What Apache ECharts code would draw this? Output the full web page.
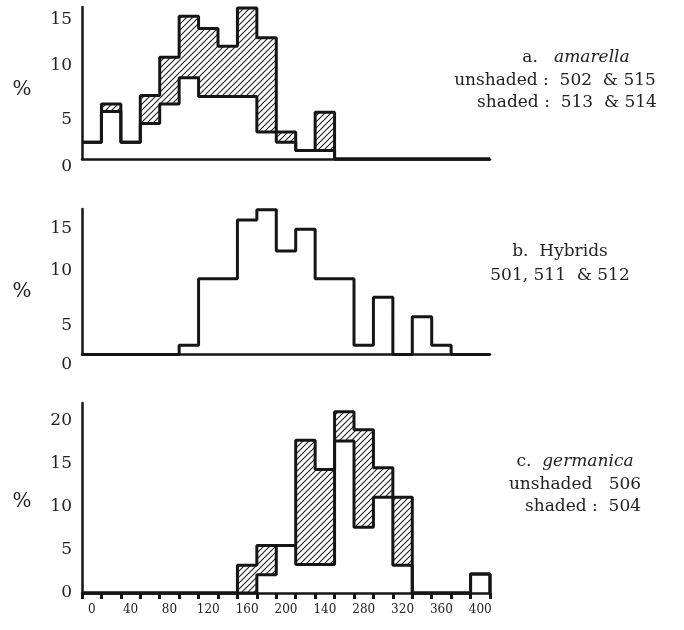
<!DOCTYPE html>
<html>
<head>
<meta charset="utf-8">
<script src="https://cdn.jsdelivr.net/npm/echarts@6/dist/echarts.min.js"></script>
<style>
  html, body { margin: 0; padding: 0; background: #fff; }
  #chart { width: 684px; height: 630px; }
</style>
</head>
<body>
<div id="chart"></div>
<script>
// bin centres (length units), bins are 20 wide
const binCenters = [0, 20, 40, 60, 80, 100, 120, 140, 160, 180, 200, 220, 240, 260, 280, 300, 320, 340, 360, 380, 400];
const binWidth = 20;
// printed tick labels (the 240 position is printed as "140" in the original)
const xTickLabels = ['0', '40', '80', '120', '160', '200', '140', '280', '320', '360', '400'];

// a. amarella  (% per bin) - lower outline = unshaded, upper outline = unshaded + shaded
const amarellaUnshaded   = [1.8, 5.1, 1.8, 3.8, 5.9, 8.7, 6.7, 6.7, 6.7, 2.9, 1.8, 0.9, 0.9, 0, 0, 0, 0, 0, 0, 0, 0];
const amarellaWithShaded = [1.8, 5.9, 1.8, 6.8, 10.9, 15.3, 14.0, 12.1, 16.2, 13.0, 2.9, 0.9, 5.0, 0, 0, 0, 0, 0, 0, 0, 0];

// b. Hybrids
const hybrids = [0, 0, 0, 0, 0, 1.1, 9.0, 9.0, 16.0, 17.2, 12.3, 14.9, 9.0, 9.0, 1.1, 6.8, 0, 4.5, 1.1, 0, 0];

// c. germanica
const germanicaUnshaded   = [0, 0, 0, 0, 0, 0, 0, 0, 0, 2.1, 5.5, 3.3, 3.3, 17.6, 7.6, 11.1, 3.2, 0, 0, 0, 2.2];
const germanicaWithShaded = [0, 0, 0, 0, 0, 0, 0, 0, 3.2, 5.5, 5.5, 17.7, 14.3, 21.0, 18.9, 14.5, 11.1, 0, 0, 0, 2.2];

const yMax = [16.3, 17.3, 22];

const ink = '#151515';
const serif = 'DejaVu Serif';

// diagonal hatch pattern
function makeHatch() {
    const s = 6;
    const c = document.createElement('canvas');
    c.width = s; c.height = s;
    const g = c.getContext('2d');
    g.strokeStyle = '#222';
    g.lineWidth = 1.1;
    g.beginPath();
    g.moveTo(-1, s + 1); g.lineTo(s + 1, -1);
    g.moveTo(-1, 1); g.lineTo(1, -1);
    g.moveTo(s - 1, s + 1); g.lineTo(s + 1, s - 1);
    g.stroke();
    return c;
}
const hatch = {image: makeHatch(), repeat: 'repeat'};

function stepData(heights) {
    const pts = binCenters.map((c, i) => [c - binWidth / 2, heights[i]]);
    pts.push([binCenters[binCenters.length - 1] + binWidth / 2, 0]);
    return pts;
}

function outline(idx, heights) {
    return {
        type: 'line', xAxisIndex: idx, yAxisIndex: idx,
        step: 'end', symbol: 'none', clip: false, z: 5,
        lineStyle: {color: ink, width: 3},
        data: stepData(heights)
    };
}

function shading(idx, lower, upper) {
    const d = [];
    binCenters.forEach((c, i) => {
        if (upper[i] > lower[i]) d.push([c, lower[i], upper[i]]);
    });
    return {
        type: 'custom', xAxisIndex: idx, yAxisIndex: idx, z: 3,
        renderItem: function (params, api) {
            const x = api.value(0);
            const p0 = api.coord([x - binWidth / 2, api.value(2)]);
            const p1 = api.coord([x + binWidth / 2, api.value(1)]);
            return {
                type: 'rect',
                shape: {x: p0[0], y: p0[1], width: p1[0] - p0[0], height: p1[1] - p0[1]},
                style: {fill: hatch}
            };
        },
        data: d
    };
}

// labels that sit a little lower than their tick in the original
const labelShift = [{0: 16, 5: 14}, {0: 20, 5: 26}, {}];

function yAxis(idx) {
    const rich = {};
    Object.keys(labelShift[idx]).forEach(k => {
        rich['s' + k] = {padding: [labelShift[idx][k], 0, 0, 0], fontFamily: serif, fontSize: 17, color: '#222'};
    });
    return {
        type: 'value', gridIndex: idx, min: 0, max: yMax[idx], interval: 5,
        axisLine: {show: true, onZero: false, lineStyle: {color: ink, width: 2.5}},
        axisTick: {show: false},
        splitLine: {show: false},
        axisLabel: {
            showMaxLabel: false, margin: 10,
            fontFamily: serif, fontSize: 17, color: '#222',
            formatter: function (v) {
                if (v % 5 !== 0) return '';
                return labelShift[idx][v] !== undefined ? '{s' + v + '|' + v + '}' : String(v);
            },
            rich: rich
        }
    };
}

function xValueAxis(idx, show) {
    return {
        type: 'value', gridIndex: idx, position: 'bottom',
        min: -binWidth / 2, max: 400 + binWidth / 2,
        show: show,
        axisLine: {show: true, onZero: false, lineStyle: {color: ink, width: 2.5}},
        axisTick: {show: false}, axisLabel: {show: false}, splitLine: {show: false}
    };
}

function txt(x, y, text) {
    return {
        type: 'text', x: x, y: y,
        style: {
            text: text,
            fontFamily: serif, fontSize: 17, fill: '#222',
            textAlign: 'center', textVerticalAlign: 'middle',
            rich: {
                i: {fontStyle: 'italic', fontFamily: serif, fontSize: 17, fill: '#222'},
                n: {fontFamily: serif, fontSize: 17, fill: '#222'}
            }
        }
    };
}

const chart = echarts.init(document.getElementById('chart'));
chart.setOption({
    backgroundColor: '#fff',
    animation: false,
    grid: [
        {left: 82, width: 408, top: 7, height: 152},
        {left: 82, width: 408, top: 209, height: 145.5},
        {left: 82, width: 408, top: 403, height: 190}
    ],
    xAxis: [
        xValueAxis(0, true),
        xValueAxis(1, true),
        xValueAxis(2, false),
        {
            type: 'category', gridIndex: 2, position: 'bottom', data: binCenters.map(String), boundaryGap: true,
            axisLine: {show: true, onZero: false, lineStyle: {color: ink, width: 2.5}},
            axisTick: {show: true, interval: 0, length: 6, lineStyle: {color: ink, width: 3}},
            axisLabel: {
                interval: 0, margin: 11, fontFamily: serif, fontSize: 12, color: '#222',
                formatter: function (v, i) { return i % 2 === 0 ? xTickLabels[i / 2] : ''; }
            }
        }
    ],
    yAxis: [yAxis(0), yAxis(1), yAxis(2)],
    graphic: [
        {type: 'text', x: 22, y: 90, style: {text: '%', fontFamily: serif, fontSize: 20, fill: '#222', textAlign: 'center', textVerticalAlign: 'middle'}},
        {type: 'text', x: 22, y: 292, style: {text: '%', fontFamily: serif, fontSize: 20, fill: '#222', textAlign: 'center', textVerticalAlign: 'middle'}},
        {type: 'text', x: 22, y: 502, style: {text: '%', fontFamily: serif, fontSize: 20, fill: '#222', textAlign: 'center', textVerticalAlign: 'middle'}},
        txt(576, 58, '{n|a.}   {i|amarella}'),
        txt(555, 81, 'unshaded :  502  & 515'),
        txt(567, 103, 'shaded :  513  & 514'),
        txt(560, 252, 'b.  Hybrids'),
        txt(560, 276, '501, 511  & 512'),
        txt(575, 462, '{n|c.}  {i|germanica}'),
        txt(575, 485, 'unshaded   506'),
        txt(583, 507, 'shaded :  504')
    ],
    series: [
        shading(0, amarellaUnshaded, amarellaWithShaded),
        outline(0, amarellaUnshaded),
        outline(0, amarellaWithShaded),
        outline(1, hybrids),
        shading(2, germanicaUnshaded, germanicaWithShaded),
        outline(2, germanicaUnshaded),
        outline(2, germanicaWithShaded)
    ]
});
</script>
</body>
</html>
